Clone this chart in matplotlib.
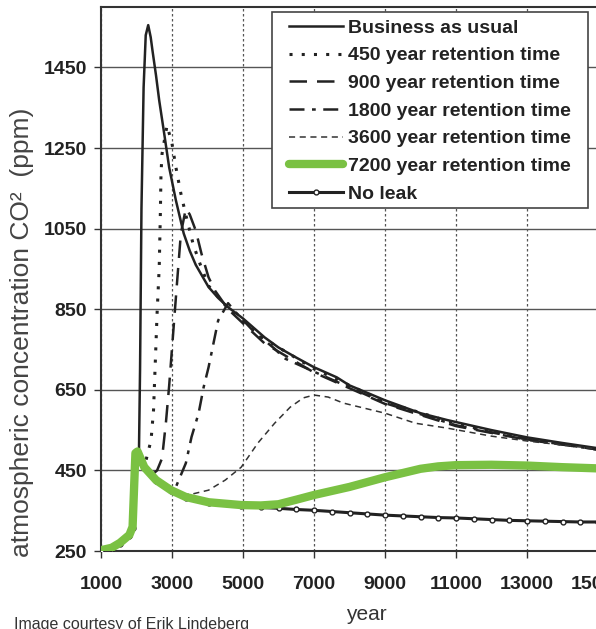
import matplotlib
matplotlib.use("Agg")
import matplotlib.pyplot as plt
from matplotlib.patches import Rectangle

plt.rcParams['font.family'] = ['Liberation Sans', 'DejaVu Sans']

# business as usual
bau_year = [1000, 1300, 1600, 1800, 1900, 1970, 2030, 2070, 2100, 2140, 2200, 2260, 2330,
            2400, 2450, 2550, 2640, 2780, 2920, 3110, 3330, 3500, 3670, 4030, 4300, 4580,
            5000, 5610, 6000, 6500, 7000, 7640, 8000, 9000, 10000, 10750, 11000, 12000,
            13000, 14000, 15000]
bau_ppm = [250, 256, 270, 288, 305, 470, 495, 500, 700, 1100, 1400, 1530, 1555,
           1525, 1492, 1430, 1368, 1286, 1202, 1120, 1038, 995, 960, 905, 878, 855,
           827, 780, 755, 730, 706, 681, 661, 624, 592, 575, 570, 550,
           532, 518, 505]

# 450 year retention time
r450_year = [2030, 2150, 2270, 2410, 2480, 2580, 2640, 2670, 2690, 2720, 2860, 3000,
             3110, 3250, 3400, 3600, 3800, 4030, 4580, 5610, 7000, 9000, 11000, 13000, 15000]
r450_ppm = [495, 480, 476, 525, 600, 840, 954, 1078, 1187, 1236, 1306, 1261,
            1202, 1137, 1080, 1010, 960, 908, 852, 776, 702, 620, 566, 528, 502]

# 900 year retention time
r900_year = [2030, 2250, 2450, 2580, 2720, 2830, 2920, 3060, 3140, 3250, 3390, 3500,
             3670, 3830, 4030, 4220, 4580, 5000, 5610, 7000, 9000, 11000, 13000, 15000]
r900_ppm = [495, 455, 440, 450, 480, 570, 660, 822, 914, 1038, 1100, 1085,
            1045, 988, 929, 895, 850, 815, 765, 693, 615, 560, 526, 502]

# 1800 year retention time
r1800_year = [2030, 2400, 2800, 3110, 3390, 3550, 3750, 3890, 4030, 4300, 4580, 4800,
              5300, 5890, 6170, 7000, 9000, 11000, 13000, 15000]
r1800_ppm = [495, 440, 412, 409, 468, 533, 592, 656, 706, 822, 865, 842,
             795, 752, 728, 695, 617, 562, 527, 502]

# 3600 year retention time
r3600_year = [2030, 2550, 2970, 3280, 3600, 4030, 4500, 4950, 5420, 5890, 6330, 6700,
              7000, 7400, 7830, 9000, 9860, 10750, 12000, 13000, 14000, 15000]
r3600_ppm = [495, 426, 401, 389, 392, 401, 426, 458, 518, 567, 607, 630,
             637, 632, 617, 592, 567, 555, 535, 523, 513, 503]

# 7200 year retention time
r7200_year = [1000, 1300, 1530, 1800, 1890, 1940, 1970, 2030, 2220, 2550, 2970, 3390,
              4030, 4950, 5500, 6000, 6530, 7000, 8000, 9000, 10000, 10500, 11000,
              12000, 13000, 14000, 15000]
r7200_ppm = [252, 258, 270, 290, 310, 426, 493, 497, 458, 426, 401, 384,
             371, 364, 363, 366, 378, 389, 409, 433, 454, 460, 463,
             464, 462, 458, 455]

# no leak
noleak_year = [1000, 1300, 1530, 1800, 1890, 1940, 1970, 2030, 2220, 2550, 2970, 3390,
               4030, 4950, 5500, 6000, 6500, 7000, 7500, 8000, 8500, 9000, 9500, 10000,
               10500, 11000, 11500, 12000, 12500, 13000, 13500, 14000, 14500, 15000]
noleak_ppm = [250, 256, 268, 288, 308, 424, 490, 494, 455, 423, 398, 381,
              368, 361, 358, 356, 353, 351, 348, 345, 342, 339, 337, 335,
              333, 332, 330, 328, 326, 325, 324, 323, 322, 322]

x_ticks = [1000, 3000, 5000, 7000, 9000, 11000, 13000, 15000]
y_ticks = [250, 450, 650, 850, 1050, 1250, 1450]

W, H = 596, 629
fig = plt.figure(figsize=(W / 100, H / 100), dpi=100)
ax = fig.add_axes([101 / W, 1 - 551 / H, 497 / W, 544 / H])

ink = '#222222'
ax.plot(bau_year, bau_ppm, color=ink, lw=1.8, label='Business as usual', zorder=3)
ax.plot(r450_year, r450_ppm, color=ink, lw=2.2, ls=(0, (1, 3)), label='450 year retention time', zorder=3)
ax.plot(r900_year, r900_ppm, color=ink, lw=1.8, ls=(0, (7, 4)), label='900 year retention time', zorder=3)
ax.plot(r1800_year, r1800_ppm, color=ink, lw=1.8, ls=(0, (6, 3, 1.5, 3)), label='1800 year retention time', zorder=3)
ax.plot(r3600_year, r3600_ppm, color='#333333', lw=1.1, ls=(0, (4, 3)), label='3600 year retention time', zorder=3)
ax.plot(noleak_year, noleak_ppm, color=ink, lw=2.2, marker='o', ms=3.5, mfc='white',
        mec=ink, mew=1, label='No leak', zorder=3)
ax.plot(r7200_year, r7200_ppm, color='#7ac143', lw=6, solid_capstyle='round',
        label='7200 year retention time', zorder=4)

ax.set_xlim(1000, 15000)
ax.set_ylim(250, 1600)
ax.set_xticks(x_ticks)
ax.set_yticks(y_ticks)
ax.tick_params(direction='out', length=5, width=1, colors='#333333', labelsize=14)
ax.tick_params(axis='x', pad=13)
ax.tick_params(axis='y', pad=5)
for lab in ax.get_xticklabels() + ax.get_yticklabels():
    lab.set_fontweight('bold')
    lab.set_color('#222222')

ax.yaxis.grid(True, color='#555555', lw=1, ls='-')
ax.xaxis.grid(True, color='#555555', lw=0.9, ls=(0, (2, 2)))
ax.set_axisbelow(True)
for s in ax.spines.values():
    s.set_color('#333333')
    s.set_linewidth(1.5)

# legend box drawn separately so the padding can match
box = Rectangle((272 / W, 1 - 208 / H), 316 / W, 196 / H, transform=fig.transFigure,
                facecolor='white', edgecolor='#444444', lw=1.2, zorder=5, clip_on=False)
ax.add_patch(box)

handles, labels = ax.get_legend_handles_labels()
order = [0, 1, 2, 3, 4, 6, 5]
leg = ax.legend([handles[i] for i in order], [labels[i] for i in order],
                loc='upper left', bbox_to_anchor=(289 / W, 1 - 19 / H),
                bbox_transform=fig.transFigure, borderaxespad=0, borderpad=0,
                frameon=False,
                prop={'family': 'Liberation Sans', 'weight': 'bold', 'size': 14},
                handlelength=2.8, handletextpad=0.25, labelspacing=0.52)
leg.set_zorder(6)
for t in leg.get_texts():
    t.set_color('#222222')

fig.text(22 / W, 1 - 332 / H, 'atmospheric concentration CO\u00b2  (ppm)', rotation=90,
         ha='center', va='center', fontsize=19, color='#444444')
fig.text(366 / W, 1 - 614 / H, 'year', ha='center', va='center', fontsize=15, color='#333333')
fig.text(14 / W, 1 - 617 / H, 'Image courtesy of Erik Lindeberg', ha='left', va='top',
         fontsize=11.5, color='#333333')

fig.savefig('out.png', dpi=100)
